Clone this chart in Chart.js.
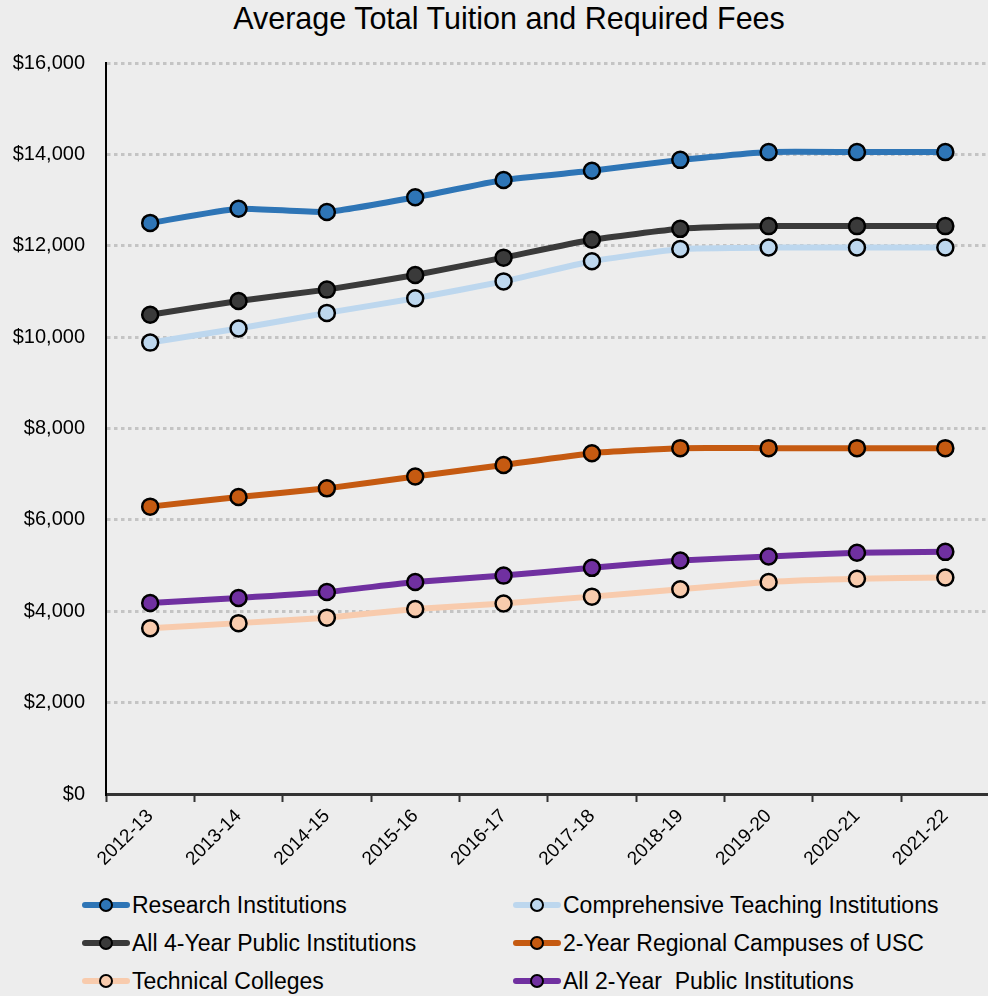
<!DOCTYPE html>
<html>
<head>
<meta charset="utf-8">
<script src="https://cdn.jsdelivr.net/npm/chart.js@4.4.1/dist/chart.umd.min.js"></script>
<style>
  html, body { margin: 0; padding: 0; background: #ededed; overflow: hidden; }
  body { width: 988px; height: 996px; position: relative; font-family: "Liberation Sans", Arial, sans-serif; }
  #title { position: absolute; top: 1px; left: 509px; transform: translateX(-50%); font-size: 30.5px; white-space: nowrap; color: #000; }
  #chart { position: absolute; top: 0; left: 0; }
  #legend { position: absolute; top: 886px; left: 0; width: 988px; height: 110px; }
  .item { position: absolute; height: 38px; line-height: 38px; font-size: 23px; white-space: pre; color: #000; }
  .sym { position: absolute; left: 0; top: 16px; width: 48px; height: 6px; border-radius: 3px; }
  .sym i { position: absolute; box-sizing: border-box; left: 17px; top: -4px; width: 14px; height: 14px; border: 2px solid #000; border-radius: 50%; }
  .lbl { position: absolute; left: 50px; top: 0; }
</style>
</head>
<body>
<div id="title">Average Total Tuition and Required Fees</div>
<canvas id="chart" width="1000" height="880"></canvas>
<div id="legend"></div>
<script>
// ── Data ─────────────────────────────────────────────
const years = ['2012-13', '2013-14', '2014-15', '2015-16', '2016-17', '2017-18', '2018-19', '2019-20', '2020-21', '2021-22'];

const research      = [12500, 12810, 12740, 13060, 13440, 13640, 13880, 14050, 14050, 14050];
const comprehensive = [9880, 10190, 10530, 10850, 11220, 11660, 11930, 11960, 11960, 11960];
const allFourYear   = [10490, 10790, 11040, 11360, 11740, 12130, 12370, 12430, 12430, 12430];
const regionalUSC   = [6290, 6500, 6690, 6950, 7200, 7460, 7570, 7570, 7570, 7570];
const technical     = [3630, 3740, 3860, 4050, 4170, 4320, 4480, 4640, 4710, 4740];
const allTwoYear    = [4180, 4290, 4420, 4640, 4780, 4950, 5110, 5200, 5280, 5300];

const seriesNames = [
  'Research Institutions',
  'Comprehensive Teaching Institutions',
  'All 4-Year Public Institutions',
  '2-Year Regional Campuses of USC',
  'Technical Colleges',
  'All 2-Year  Public Institutions'
];
const seriesValues = [research, comprehensive, allFourYear, regionalUSC, technical, allTwoYear];
const seriesColors = ['#2e75b6', '#bdd7ee', '#3a3a3a', '#c55a11', '#f8cbad', '#7030a0'];

const FONT = '"Liberation Sans", Arial, sans-serif';

// ── Chart ────────────────────────────────────────────
const datasets = seriesNames.map((name, i) => ({
  label: name,
  data: seriesValues[i],
  borderColor: seriesColors[i],
  backgroundColor: seriesColors[i],
  borderWidth: 6,
  tension: 0.15,
  pointRadius: 8,
  pointHoverRadius: 8,
  pointBorderWidth: 2.5,
  pointBorderColor: '#000',
  pointBackgroundColor: seriesColors[i]
}));

new Chart(document.getElementById('chart'), {
  type: 'line',
  data: { labels: years, datasets },
  options: {
    responsive: false,
    animation: false,
    layout: { padding: { top: 63, right: 6, left: 0, bottom: 0 } },
    plugins: { legend: { display: false }, tooltip: { enabled: false } },
    scales: {
      x: {
        offset: true,
        grid: { offset: true, drawOnChartArea: false, drawTicks: true, tickLength: 8, tickColor: '#333', tickWidth: 2 },
        border: { color: '#333', width: 3 },
        ticks: { minRotation: 45, maxRotation: 45, color: '#000', padding: 3, font: { family: FONT, size: 19 } },
        afterFit: s => { s.height = 86; }
      },
      y: {
        min: 0,
        max: 16000,
        grid: { color: '#c4c4c4', lineWidth: 3, drawTicks: false },
        border: { color: '#000', width: 2, dash: [3.5, 3.5] },
        ticks: {
          stepSize: 2000,
          color: '#000',
          padding: 21,
          font: { family: FONT, size: 20 },
          callback: v => '$' + v.toLocaleString('en-US')
        },
        afterFit: s => { s.width = 106; }
      }
    }
  }
});

// ── Legend (two columns) ─────────────────────────────
const legend = document.getElementById('legend');
const colX = [82, 513];
seriesNames.forEach((name, i) => {
  const item = document.createElement('div');
  item.className = 'item';
  item.style.left = colX[i % 2] + 'px';
  item.style.top = Math.floor(i / 2) * 38 + 'px';
  item.innerHTML = '<span class="sym" style="background:' + seriesColors[i] + '"><i style="background:' + seriesColors[i] + '"></i></span>';
  const lbl = document.createElement('span');
  lbl.className = 'lbl';
  lbl.textContent = name;
  item.appendChild(lbl);
  legend.appendChild(item);
});
</script>
</body>
</html>
